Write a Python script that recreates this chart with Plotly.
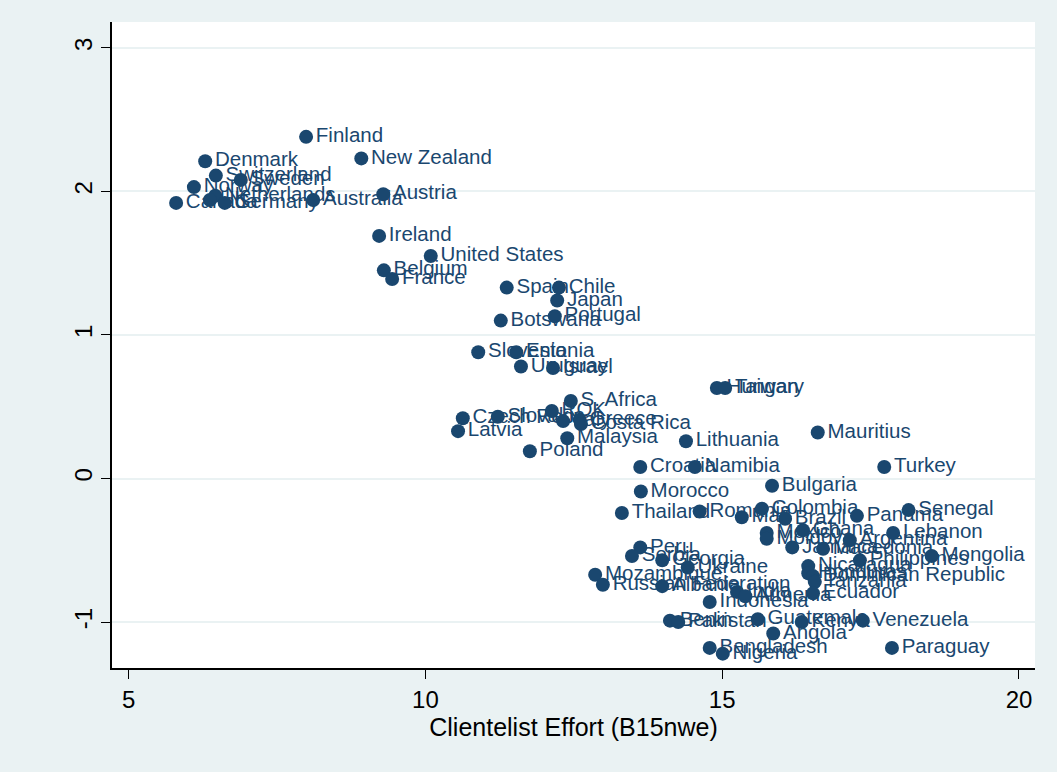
import plotly.graph_objects as go

# Clientelist effort (B15nwe) vs. governance index, by country
countries = [
    "Finland", "Denmark", "New Zealand", "Switzerland", "Sweden", "Norway",
    "Netherlands", "UK", "Canada", "Germany", "Australia", "Austria",
    "Ireland", "United States", "Belgium", "France", "Spain", "Chile",
    "Japan", "Portugal", "Botswana", "Slovenia", "Estonia", "Uruguay",
    "Israel", "Hungary", "Taiwan", "S. Africa", "ROK", "Czech Rep.",
    "Slovakia", "Italy", "Greece", "Costa Rica", "Latvia", "Malaysia",
    "Poland", "Mauritius", "Lithuania", "Turkey", "Croatia", "Namibia",
    "Bulgaria", "Morocco", "Thailand", "Romania", "Mali", "Colombia",
    "Brazil", "Senegal", "Panama", "Mexico", "Moldova", "Ghana",
    "Argentina", "Lebanon", "Jamaica", "Macedonia", "Philippines",
    "Mongolia", "Nicaragua", "Honduras", "Dominican Republic", "Tanzania",
    "Ecuador", "Peru", "Serbia", "Georgia", "Ukraine", "Mozambique",
    "Russian Federation", "Albania", "India", "Armenia", "Indonesia",
    "Benin", "Pakistan", "Guatemala", "Kenya", "Venezuela", "Angola",
    "Bangladesh", "Nigeria", "Paraguay",
]

effort = [
    7.99, 6.29, 8.92, 6.47, 6.89, 6.10,
    6.46, 6.37, 5.80, 6.62, 8.11, 9.29,
    9.22, 10.09, 9.30, 9.44, 11.37, 12.25,
    12.22, 12.18, 11.27, 10.89, 11.53, 11.61,
    12.15, 14.91, 15.05, 12.45, 12.13, 10.63,
    11.22, 12.32, 12.60, 12.62, 10.55, 12.39,
    11.76, 16.61, 14.39, 17.73, 13.62, 14.54,
    15.84, 13.63, 13.31, 14.62, 15.33, 15.67,
    16.06, 18.14, 17.27, 15.75, 15.75, 16.36,
    17.15, 17.88, 16.18, 16.70, 17.32,
    18.53, 16.45, 16.45, 16.53, 16.56,
    16.53, 13.62, 13.48, 13.99, 14.42, 12.86,
    12.99, 13.99, 15.25, 15.39, 14.79,
    14.12, 14.26, 15.60, 16.34, 17.37, 15.86,
    14.79, 15.01, 17.86,
]

governance = [
    2.38, 2.21, 2.23, 2.11, 2.08, 2.03,
    1.97, 1.94, 1.92, 1.92, 1.94, 1.98,
    1.69, 1.55, 1.45, 1.39, 1.33, 1.33,
    1.24, 1.13, 1.10, 0.88, 0.88, 0.78,
    0.77, 0.63, 0.63, 0.54, 0.47, 0.42,
    0.43, 0.40, 0.41, 0.38, 0.33, 0.28,
    0.19, 0.32, 0.26, 0.08, 0.08, 0.08,
    -0.05, -0.09, -0.24, -0.23, -0.27, -0.21,
    -0.28, -0.22, -0.26, -0.38, -0.42, -0.36,
    -0.43, -0.38, -0.48, -0.49, -0.57,
    -0.54, -0.61, -0.66, -0.68, -0.72,
    -0.80, -0.48, -0.54, -0.57, -0.62, -0.67,
    -0.74, -0.75, -0.79, -0.82, -0.86,
    -0.99, -1.00, -0.98, -1.00, -0.99, -1.08,
    -1.18, -1.22, -1.18,
]

x_ticks = [5, 10, 15, 20]
y_ticks = [-1, 0, 1, 2, 3]

navy = "#1a476f"
bg = "#eaf2f3"

fig = go.Figure(
    go.Scatter(
        x=effort,
        y=governance,
        mode="markers+text",
        text=countries,
        textposition="middle right",
        textfont=dict(family="Liberation Sans, Arial, sans-serif", size=20.5, color=navy),
        marker=dict(size=14, color=navy, line=dict(width=0)),
        cliponaxis=False,
        showlegend=False,
    )
)

fig.update_layout(
    width=1057,
    height=772,
    margin=dict(l=112, r=22, t=22, b=104),
    paper_bgcolor=bg,
    plot_bgcolor="white",
    font=dict(family="Liberation Sans, Arial, sans-serif", color="black"),
)

fig.update_xaxes(
    range=[4.72, 20.27],
    tickvals=x_ticks,
    ticktext=[str(v) for v in x_ticks],
    ticks="outside",
    ticklen=9,
    tickcolor="black",
    tickfont=dict(size=24),
    showline=True,
    linecolor="black",
    linewidth=1.5,
    showgrid=False,
    zeroline=False,
    title=dict(text="Clientelist Effort (B15nwe)", font=dict(size=25), standoff=4),
)

fig.update_yaxes(
    range=[-1.32, 3.18],
    tickvals=y_ticks,
    ticktext=[str(v) for v in y_ticks],
    tickangle=-90,
    ticks="outside",
    ticklen=9,
    tickcolor="black",
    tickfont=dict(size=24),
    showline=True,
    linecolor="black",
    linewidth=1.5,
    showgrid=True,
    gridcolor=bg,
    gridwidth=1.5,
    zeroline=False,
)

fig.write_html("out.html")
